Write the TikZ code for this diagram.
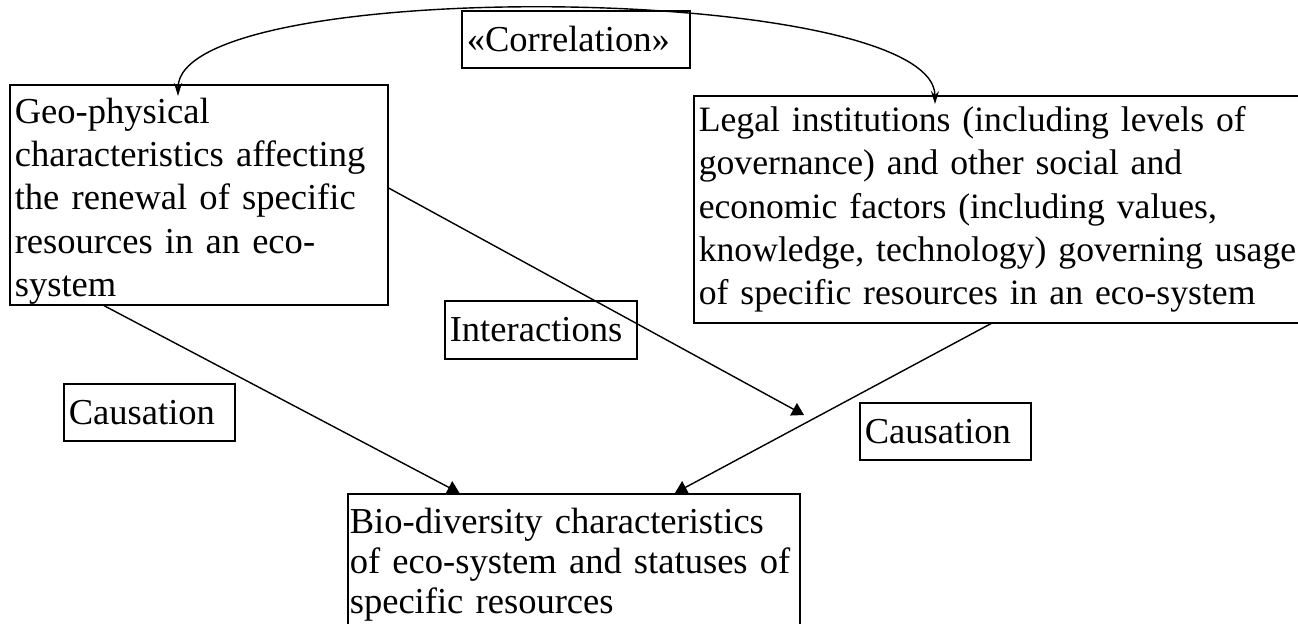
\documentclass[tikz,border=0pt]{standalone}
\usepackage{fontspec}
\setmainfont{Liberation Serif}
\usetikzlibrary{arrows.meta, positioning, calc}

\begin{document}
\begin{tikzpicture}[
  every node/.style={text=black, font=\fontsize{20.8}{24.6}\selectfont},
  box/.style={draw, line width=0.9pt, align=left, anchor=north west, inner xsep=0.1cm, inner ysep=0.05cm},
  link/.style={line width=0.8pt, -{Triangle[length=0.24cm, width=0.28cm]}},
  corr/.style={line width=0.8pt, {Stealth[length=0.26cm, width=0.16cm]}-{Stealth[length=0.26cm, width=0.16cm]}},
]

\useasboundingbox (0,0) rectangle (25.96,12.46);

% Main boxes
\node[box, text width=7.36cm, minimum height=4.4cm, inner ysep=0pt] (geo) at (0.18,10.78) {\rule{0pt}{0.76cm}Geo-physical\\
  characteristics affecting\\the renewal of specific\\resources in an eco-\\system};
\node[box, text width=12.74cm, minimum height=4.54cm, font=\fontsize{20.3}{24.6}\selectfont] (legal) at (13.86,10.56) {Legal institutions (including levels of\\
  governance) and other social and\\economic factors (including values,\\
  knowledge, technology) governing usage\\of specific resources in an eco-system};
\node[box, text width=8.96cm, inner xsep=0.04cm, minimum height=2.82cm, font=\fontsize{20.8}{22.8}\selectfont] (bio) at (6.94,2.60) {Bio-diversity characteristics\\
  of eco-system and statuses of\\specific resources};

% Labels
\node[box, text width=4.36cm, minimum height=1.14cm] (corrtag) at (9.22,12.26) {«Correlation»};
\node[box, text width=3.64cm, minimum height=1.16cm] (intertag) at (8.88,6.46) {Interactions};
\node[box, text width=3.22cm, minimum height=1.14cm] (causeL) at (1.26,4.80) {Causation};
\node[box, text width=3.22cm, minimum height=1.14cm] (causeR) at (17.18,4.42) {Causation};

% Connectors
\draw[link] ($(geo.south west)!0.25!(geo.south east)$) -- ($(bio.north west)!0.248!(bio.north east)$);
\draw[link] ($(legal.south west)+(5.96,0)$) -- ($(bio.north west)!0.723!(bio.north east)$);
\coordinate (interend) at (16.08,4.16);
\draw[link] ($(geo.north east)+(0,-2.08)$) -- (interend);

% Correlation arc
\draw[corr] ($(geo.north west)+(3.38,-0.24)$) to[out=90, in=90, looseness=0.41] ($(legal.north west)+(4.84,-0.18)$);

\end{tikzpicture}
\end{document}
